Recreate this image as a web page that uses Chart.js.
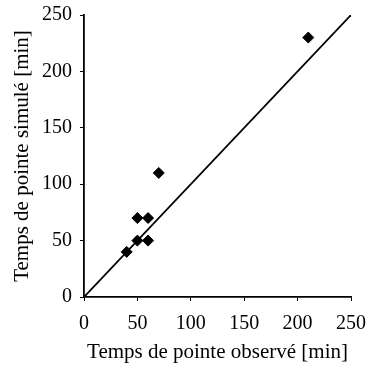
<!DOCTYPE html>
<html>
<head>
<meta charset="utf-8">
<script src="https://cdn.jsdelivr.net/npm/chart.js@4"></script>
<style>
  html, body { margin: 0; padding: 0; background: #fff; }
  #wrap { width: 374px; height: 368px; }
</style>
</head>
<body>
<div id="wrap"><canvas id="peakChart" width="374" height="368"></canvas></div>
<script>
// observed vs simulated peak times [min]
const observed = [40, 50, 50, 60, 60, 70, 210];
const simulated = [40, 50, 70, 70, 50, 110, 230];
const diagonal = [0, 250];
const tickValues = [0, 50, 100, 150, 200, 250];

const serif = "'Liberation Serif', 'Times New Roman', serif";
const tickFont = { family: serif, size: 20 };
const titleFont = { family: serif, size: 21 };

const points = observed.map((x, i) => ({ x: x, y: simulated[i] }));
const line = diagonal.map(v => ({ x: v, y: v }));

function axis(title, fitFn, tickPad, titlePad) {
    return {
        type: 'linear',
        min: 0,
        max: 250,
        afterBuildTicks: s => { s.ticks = tickValues.map(v => ({ value: v })); },
        afterFit: s => {
            fitFn(s);
            s.paddingTop = 0; s.paddingBottom = 0; s.paddingLeft = 0; s.paddingRight = 0;
        },
        border: { display: true, color: '#000', width: 1.8 },
        grid: { display: true, drawOnChartArea: false, drawTicks: true, tickLength: 4, color: '#000', lineWidth: 1 },
        ticks: { color: '#000', font: tickFont, padding: tickPad },
        title: { display: true, text: title, color: '#000', font: titleFont, padding: titlePad }
    };
}

const ctx = document.getElementById('peakChart').getContext('2d');
new Chart(ctx, {
    type: 'scatter',
    data: {
        datasets: [
            {
                type: 'line',
                data: line,
                borderColor: '#000',
                borderWidth: 1.8,
                pointRadius: 0,
                fill: false
            },
            {
                data: points,
                backgroundColor: '#000',
                borderColor: '#000',
                pointStyle: 'rectRot',
                pointRadius: 5.5,
                pointHoverRadius: 5.5
            }
        ]
    },
    options: {
        responsive: false,
        animation: false,
        layout: { padding: { top: 15, right: 23, left: 0, bottom: 0 } },
        plugins: { legend: { display: false }, tooltip: { enabled: false } },
        scales: {
            x: axis('Temps de pointe observé [min]', s => { s.height = 71; }, 11, { top: 4, bottom: 3 }),
            y: axis('Temps de pointe simulé [min]', s => { s.width = 84; }, 8, { top: 10, bottom: 0 })
        }
    }
});
</script>
</body>
</html>
